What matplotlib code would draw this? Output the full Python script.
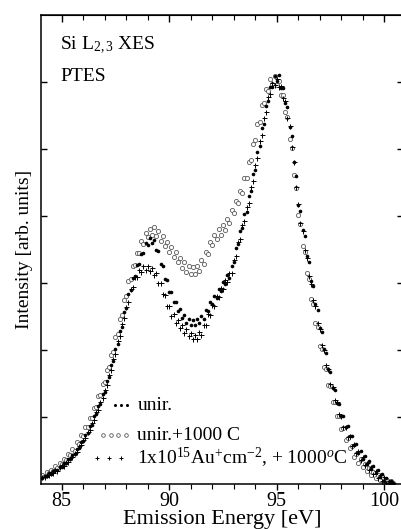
import numpy as np
import matplotlib
matplotlib.use("Agg")
import matplotlib.pyplot as plt
from matplotlib.ticker import MultipleLocator

plt.rcParams['font.family'] = ['Liberation Serif', 'DejaVu Serif']
plt.rcParams['mathtext.fontset'] = 'custom'
plt.rcParams['mathtext.rm'] = 'Liberation Serif'
plt.rcParams['mathtext.it'] = 'Liberation Serif:italic'

# emission energy grid [eV]
energy = [
    84.1, 84.2, 84.3, 84.4, 84.5, 84.6, 84.7, 84.8, 84.9,
    85.0, 85.1, 85.2, 85.3, 85.4, 85.5, 85.6, 85.7, 85.8, 85.9,
    86.0, 86.1, 86.2, 86.3, 86.4, 86.5, 86.6, 86.7, 86.8, 86.9,
    87.0, 87.1, 87.2, 87.3, 87.4, 87.5, 87.6, 87.7, 87.8, 87.9,
    88.0, 88.1, 88.2, 88.3, 88.4, 88.5, 88.6, 88.7, 88.8, 88.9,
    89.0, 89.1, 89.2, 89.3, 89.4, 89.5, 89.6, 89.7, 89.8, 89.9,
    90.0, 90.1, 90.2, 90.3, 90.4, 90.5, 90.6, 90.7, 90.8, 90.9,
    91.0, 91.1, 91.2, 91.3, 91.4, 91.5, 91.6, 91.7, 91.8, 91.9,
    92.0, 92.1, 92.2, 92.3, 92.4, 92.5, 92.6, 92.7, 92.8, 92.9,
    93.0, 93.1, 93.2, 93.3, 93.4, 93.5, 93.6, 93.7, 93.8, 93.9,
    94.0, 94.1, 94.2, 94.3, 94.4, 94.5, 94.6, 94.7, 94.8, 94.9,
    95.0, 95.1, 95.2, 95.3, 95.4, 95.5, 95.6, 95.7, 95.8, 95.9,
    96.0, 96.1, 96.2, 96.3, 96.4, 96.5, 96.6, 96.7, 96.8, 96.9,
    97.0, 97.1, 97.2, 97.3, 97.4, 97.5, 97.6, 97.7, 97.8, 97.9,
    98.0, 98.1, 98.2, 98.3, 98.4, 98.5, 98.6, 98.7, 98.8, 98.9,
    99.0, 99.1, 99.2, 99.3, 99.4, 99.5, 99.6, 99.7, 99.8, 99.9,
    100.0, 100.1, 100.2, 100.3, 100.4,
]

# unirradiated (filled dots)
unir = [
    0.09, 0.12, 0.12, 0.16, 0.15, 0.19, 0.21, 0.21, 0.26,
    0.26, 0.31, 0.31, 0.37, 0.37, 0.44, 0.45, 0.52, 0.54, 0.62,
    0.64, 0.73, 0.76, 0.86, 0.88, 1.01, 1.04, 1.17, 1.20, 1.34,
    1.38, 1.54, 1.60, 1.77, 1.84, 2.01, 2.09, 2.28, 2.35, 2.56,
    2.62, 2.84, 2.90, 3.08, 3.11, 3.27, 3.29, 3.44, 3.45, 3.59,
    3.56, 3.67, 3.60, 3.64, 3.49, 3.48, 3.29, 3.26, 3.06, 3.04,
    2.86, 2.86, 2.71, 2.72, 2.58, 2.61, 2.48, 2.52, 2.41, 2.47,
    2.38, 2.45, 2.37, 2.46, 2.40, 2.51, 2.47, 2.60, 2.58, 2.72,
    2.68, 2.81, 2.78, 2.91, 2.88, 3.01, 2.98, 3.12, 3.08, 3.26,
    3.31, 3.52, 3.58, 3.78, 3.82, 4.03, 4.06, 4.30, 4.38, 4.62,
    4.68, 4.96, 5.05, 5.31, 5.37, 5.64, 5.71, 5.92, 5.93, 6.09,
    6.02, 6.10, 5.91, 5.91, 5.69, 5.63, 5.33, 5.20, 4.80, 4.60,
    4.17, 4.07, 3.79, 3.70, 3.40, 3.32, 3.03, 2.95, 2.68, 2.60,
    2.33, 2.27, 2.01, 1.96, 1.71, 1.67, 1.44, 1.41, 1.21, 1.19,
    1.01, 1.01, 0.85, 0.86, 0.71, 0.72, 0.58, 0.60, 0.47, 0.50,
    0.38, 0.42, 0.30, 0.34, 0.22, 0.27, 0.16, 0.21, 0.10, 0.15,
    0.05, 0.09, 0.02, 0.05, 0.01,
]

# unirradiated + 1000 C anneal (open circles)
unir_anneal = [
    0.14, 0.12, 0.18, 0.16, 0.21, 0.19, 0.27, 0.24, 0.31,
    0.30, 0.38, 0.36, 0.45, 0.43, 0.52, 0.50, 0.62, 0.60, 0.73,
    0.72, 0.85, 0.85, 0.99, 0.98, 1.14, 1.15, 1.31, 1.33, 1.49,
    1.52, 1.70, 1.74, 1.93, 1.97, 2.19, 2.24, 2.47, 2.52, 2.75,
    2.80, 3.03, 3.06, 3.26, 3.27, 3.45, 3.45, 3.62, 3.58, 3.74,
    3.68, 3.81, 3.72, 3.83, 3.70, 3.78, 3.63, 3.70, 3.55, 3.61,
    3.47, 3.54, 3.39, 3.46, 3.31, 3.38, 3.23, 3.31, 3.17, 3.26,
    3.13, 3.24, 3.13, 3.26, 3.18, 3.34, 3.29, 3.47, 3.43, 3.61,
    3.56, 3.72, 3.65, 3.80, 3.72, 3.86, 3.79, 3.95, 3.90, 4.09,
    4.05, 4.23, 4.19, 4.38, 4.35, 4.56, 4.56, 4.80, 4.83, 5.07,
    5.13, 5.38, 5.41, 5.66, 5.68, 5.90, 5.87, 6.04, 5.97, 6.09,
    5.95, 6.01, 5.81, 5.80, 5.55, 5.48, 5.15, 5.01, 4.61, 4.42,
    4.01, 3.88, 3.55, 3.46, 3.15, 3.06, 2.76, 2.69, 2.40, 2.34,
    2.06, 2.01, 1.75, 1.72, 1.48, 1.46, 1.23, 1.22, 1.01, 1.01,
    0.82, 0.84, 0.66, 0.69, 0.53, 0.56, 0.41, 0.45, 0.32, 0.37,
    0.25, 0.30, 0.19, 0.24, 0.13, 0.18, 0.09, 0.14, 0.06, 0.10,
    0.03, 0.07, 0.02, 0.04, 0.01,
]

# 1x10^15 Au+ cm^-2 implanted + 1000 C (plus signs)
au_anneal = [
    0.11, 0.10, 0.14, 0.13, 0.17, 0.16, 0.21, 0.20, 0.25,
    0.28, 0.27, 0.33, 0.33, 0.39, 0.40, 0.47, 0.48, 0.56, 0.58,
    0.66, 0.69, 0.78, 0.81, 0.91, 0.95, 1.07, 1.11, 1.23, 1.28,
    1.41, 1.48, 1.63, 1.70, 1.87, 1.94, 2.13, 2.21, 2.39, 2.48,
    2.64, 2.72, 2.91, 2.94, 3.09, 3.09, 3.20, 3.16, 3.25, 3.19,
    3.26, 3.18, 3.23, 3.12, 3.15, 3.00, 3.00, 2.83, 2.82, 2.65,
    2.65, 2.51, 2.53, 2.41, 2.45, 2.33, 2.37, 2.26, 2.31, 2.21,
    2.26, 2.16, 2.23, 2.16, 2.27, 2.23, 2.37, 2.37, 2.53, 2.52,
    2.67, 2.66, 2.81, 2.79, 2.93, 2.91, 3.04, 3.02, 3.15, 3.15,
    3.35, 3.40, 3.61, 3.66, 3.87, 3.92, 4.13, 4.20, 4.44, 4.52,
    4.76, 4.86, 5.12, 5.21, 5.46, 5.55, 5.78, 5.82, 5.99, 5.96,
    6.05, 5.93, 5.94, 5.76, 5.71, 5.47, 5.34, 5.03, 4.81, 4.43,
    4.18, 3.89, 3.77, 3.49, 3.37, 3.10, 2.99, 2.74, 2.65, 2.40,
    2.31, 2.07, 2.00, 1.77, 1.71, 1.50, 1.45, 1.25, 1.22, 1.04,
    1.02, 0.85, 0.85, 0.70, 0.71, 0.57, 0.59, 0.46, 0.49, 0.36,
    0.40, 0.28, 0.32, 0.21, 0.26, 0.15, 0.20, 0.09, 0.14, 0.04,
    0.10, 0.02, 0.05, 0.01, 0.02,
]

xticks = [85, 90, 95, 100]

fig = plt.figure(figsize=(4.01, 5.29), dpi=100)
ax = fig.add_axes([41 / 401, 45 / 529, 362 / 401, 469 / 529])

ax.plot(energy, unir_anneal, 'o', ms=3.0, mfc='white', mec='0.35', mew=0.6, zorder=2)
ax.plot(energy, au_anneal, '+', ms=3.6, color='black', mew=0.7, zorder=3)
ax.plot(energy, unir, 'o', ms=2.6, color='black', mew=0, zorder=4)

ax.set_xlim(84.037, 100.874)
ax.set_ylim(0, 7)
ax.set_xticks(xticks)
ax.xaxis.set_minor_locator(MultipleLocator(1))
ax.set_yticks([1, 2, 3, 4, 5, 6])
ax.tick_params(axis='x', which='major', direction='out', length=4.5, width=1,
               labelsize=14.5, pad=1.5, top=False)
ax.tick_params(axis='x', which='minor', direction='out', length=3.5, width=0.8, top=False)
ax.tick_params(axis='y', which='both', direction='in', length=4.5, width=1,
               left=True, right=True, labelleft=False)

top = ax.secondary_xaxis('top')
top.set_xticks(xticks)
top.xaxis.set_minor_locator(MultipleLocator(1))
top.tick_params(which='major', direction='in', length=5, width=1, labeltop=False)
top.tick_params(which='minor', direction='in', length=3.5, width=0.8)

for s in ax.spines.values():
    s.set_linewidth(1.1)
ax.spines['right'].set_visible(False)

ax.set_xlabel('Emission Energy [eV]', fontsize=16, labelpad=-1)
ax.set_ylabel('Intensity [arb. units]', fontsize=14, labelpad=6)

ax.text(0.053, 0.935, 'Si L$_{2,3}$ XES', transform=ax.transAxes, fontsize=14,
        ha='left', va='center')
ax.text(0.053, 0.868, 'PTES', transform=ax.transAxes, fontsize=14,
        ha='left', va='center')

# legend entries
ax.plot([0.205, 0.222, 0.238], [0.168, 0.168, 0.168], 'o', ms=2.2, color='black',
        mew=0, transform=ax.transAxes, clip_on=False)
ax.text(0.266, 0.168, 'unir.', transform=ax.transAxes, fontsize=14, ha='left', va='center')
ax.plot([0.17, 0.192, 0.214, 0.236], [0.104] * 4, 'o', ms=2.6, mfc='white', mec='0.35',
        mew=0.6, transform=ax.transAxes, clip_on=False)
ax.text(0.266, 0.104, 'unir.+1000 C', transform=ax.transAxes, fontsize=14,
        ha='left', va='center')
ax.plot([0.155, 0.188, 0.221], [0.055] * 3, '+', ms=3.5, color='black', mew=0.7,
        transform=ax.transAxes, clip_on=False)
ax.text(0.266, 0.055, '1x10$^{15}$Au$^{+}$cm$^{-2}$, + 1000$^{o}$C', transform=ax.transAxes,
        fontsize=14, ha='left', va='center')

fig.savefig('out.png', dpi=100)
